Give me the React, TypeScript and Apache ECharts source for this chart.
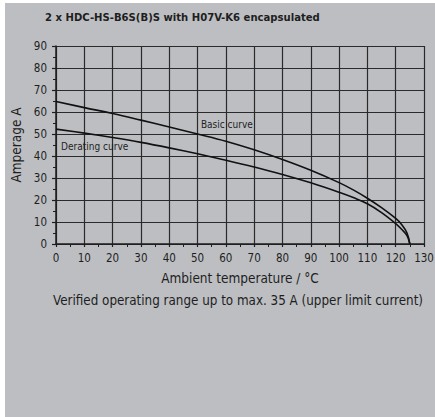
import React, { useEffect, useRef } from "react";
import * as echarts from "echarts";

const titleText = "2 x HDC-HS-B6S(B)S with H07V-K6 encapsulated";
const xAxisName = "Ambient temperature / °C";
const yAxisName = "Amperage A";
const footerText = "Verified operating range up to max. 35 A (upper limit current)";

const temps = [0, 10, 20, 30, 40, 50, 60, 70, 80, 90, 100, 105, 110, 115, 120, 122, 124, 125];
const basicCurve = [64.8, 62, 59.3, 56.3, 53.2, 50.0, 46.7, 42.8, 38.4, 33.5, 27.9, 24.6, 20.8, 16.5, 11.6, 9.0, 5.0, 0];
const deratingCurve = [52.2, 50.4, 48.4, 46.2, 43.7, 41.0, 38.1, 35.0, 31.6, 27.8, 23.5, 21.1, 18.3, 14.3, 9.3, 6.8, 3.8, 0];

const curveLabels = [
  { name: "Basic curve", at: [51.2, 54.1] },
  { name: "Derating curve", at: [1.8, 44.5] },
];

const FONT = '"Liberation Sans Narrow", "DejaVu Sans Condensed", "Roboto", sans-serif';
const BG = "#bdbec2";
const INK = "#1e1e1e";

export default function App() {
  const ref = useRef<HTMLDivElement>(null);
  useEffect(() => {
    if (!ref.current) return;
    const chart = echarts.init(ref.current, undefined, { renderer: "svg" });
    const mk = (vals: number[]) => temps.map((t, i) => [t, vals[i]]);
    chart.setOption({
      animation: false,
      backgroundColor: BG,
      textStyle: { fontFamily: FONT },
      title: {
        text: titleText,
        left: 35,
        top: 4,
        textStyle: { fontFamily: FONT, fontSize: 11.2, fontWeight: "bold", color: INK },
      },
      grid: { left: 51, top: 43, right: 11, bottom: 173, containLabel: false, outerBoundsMode: "none" },
      xAxis: {
        type: "value",
        min: 0,
        max: 130,
        interval: 10,
        name: xAxisName,
        nameLocation: "middle",
        nameGap: 27,
        nameTextStyle: { fontFamily: FONT, fontSize: 13.5, color: INK },
        axisLine: { show: true, lineStyle: { color: INK, width: 1.5 } },
        axisTick: { show: true, inside: false, length: 3, lineStyle: { color: INK, width: 1.2 } },
        minorTick: { show: true, splitNumber: 2, length: 3, lineStyle: { color: INK, width: 1 } },
        axisLabel: { fontFamily: FONT, fontSize: 11.5, color: INK, margin: 8 },
        splitLine: { show: true, lineStyle: { color: "#2a2a2a", width: 1.2 } },
      },
      yAxis: {
        type: "value",
        min: 0,
        max: 90,
        interval: 10,
        name: yAxisName,
        nameLocation: "middle",
        nameGap: 32,
        nameTextStyle: { fontFamily: FONT, fontSize: 13.5, color: INK },
        axisLine: { show: true, lineStyle: { color: INK, width: 1.5 } },
        axisTick: { show: true, inside: false, length: 4, lineStyle: { color: INK, width: 1.2 } },
        minorTick: { show: true, splitNumber: 2, length: 3, lineStyle: { color: INK, width: 1 } },
        axisLabel: { fontFamily: FONT, fontSize: 11.5, color: INK, margin: 9 },
        splitLine: { show: true, lineStyle: { color: "#2a2a2a", width: 1.2 } },
      },
      series: [
        {
          name: "Basic curve",
          type: "line",
          data: mk(basicCurve),
          smooth: 0.4,
          showSymbol: false,
          lineStyle: { color: "#111", width: 1.6 },
        },
        {
          name: "Derating curve",
          type: "line",
          data: mk(deratingCurve),
          smooth: 0.4,
          showSymbol: false,
          lineStyle: { color: "#111", width: 1.6 },
        },
      ],
    });
    const labelGraphics = curveLabels.map((l) => {
      const p = chart.convertToPixel({ gridIndex: 0 }, l.at) as number[];
      return {
        type: "text",
        x: p[0],
        y: p[1],
        style: {
          text: l.name,
          fill: INK,
          font: `10px ${FONT}`,
          verticalAlign: "middle",
        },
      };
    });
    chart.setOption({
      graphic: [
        ...labelGraphics,
        {
          type: "text",
          x: 233,
          y: 297,
          style: {
            text: footerText,
            fill: INK,
            font: `13.3px ${FONT}`,
            align: "center",
            verticalAlign: "middle",
          },
        },
      ],
    });
    return () => chart.dispose();
  }, []);
  return (
    <div style={{ position: "fixed", left: 0, top: 0, width: 435, height: 417, background: "#fff" }}>
      <div ref={ref} style={{ position: "absolute", left: 5, top: 3, width: 430, height: 414 }} />
    </div>
  );
}
